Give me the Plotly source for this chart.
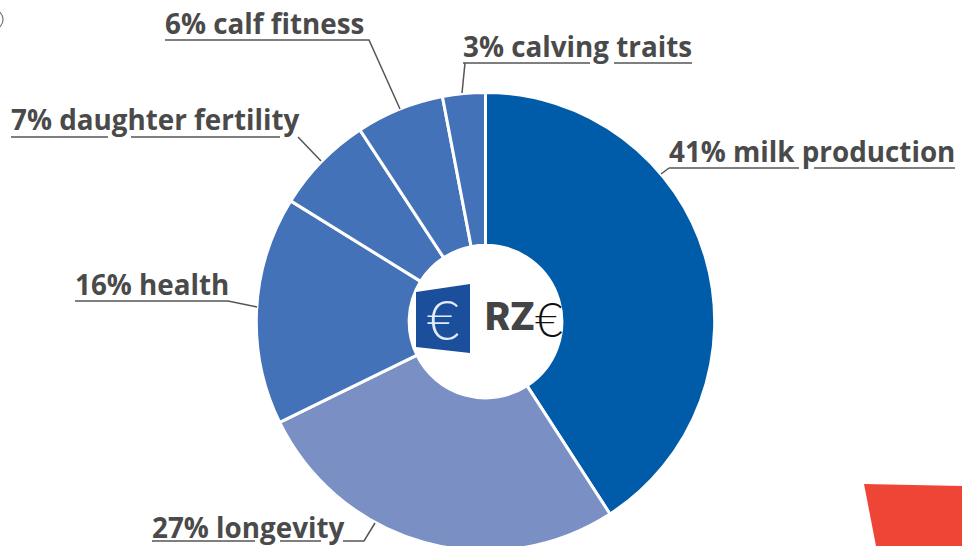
import plotly.graph_objects as go

categories = ["milk production", "longevity", "health", "daughter fertility", "calf fitness", "calving traits"]
label_percent = [41, 27, 16, 7, 6, 3]
slice_shares = [40.86, 26.89, 16.08, 6.94, 6.22, 3.01]
slice_colors = ["#005BA8", "#7A90C4", "#4472B8", "#4472B8", "#4472B8", "#4472B8"]

W, H = 962, 552
TXT = "#4A4A4A"
FONT = "Open Sans"

def px(x): return x / W
def py(y): return 1 - y / H

fig = go.Figure(go.Pie(
    labels=categories, values=slice_shares, sort=False, direction="clockwise", rotation=0,
    hole=0.333, textinfo="none", hoverinfo="label+percent",
    marker=dict(colors=slice_colors, line=dict(color="white", width=3)),
    domain=dict(x=[px(256.3), px(714.7)], y=[py(551), py(92.2)]),
    showlegend=False,
))

label_pos = {
    "milk production": (667, 151),
    "longevity": (150, 527),
    "health": (73, 284),
    "daughter fertility": (9, 119),
    "calf fitness": (163, 23),
    "calving traits": (461, 46),
}
ann = []
for c, v in zip(categories, label_percent):
    x, y = label_pos[c]
    ann.append(dict(x=px(x), y=py(y), xref="paper", yref="paper", xanchor="left", yanchor="middle",
                    text=f"<b>{v}% {c}</b>", showarrow=False, font=dict(family=FONT, size=27.8, color=TXT)))

# logo text
ann += [
    dict(x=px(443), y=py(318), xref="paper", yref="paper", text="€", showarrow=False,
         font=dict(family="Lato", size=56, color="#E4ECF7", weight=300)),
    dict(x=px(483), y=py(317), xref="paper", yref="paper", xanchor="left", text="RZ", showarrow=False,
         font=dict(family="Roboto", size=39, color="#444444", weight=900)),
    dict(x=px(548.5), y=py(318), xref="paper", yref="paper", text="€", showarrow=False,
         font=dict(family="Lato", size=48, color="#111111", weight=300)),
]

line_paths = [
    [(11, 137), (108, 137)], [(131, 137), (280, 137)], [(298, 137), (321, 161)],
    [(165, 40), (369, 40), (400, 109)],
    [(463, 63), (590, 63)], [(614, 63), (692, 63)], [(465, 63), (462, 93)],
    [(669, 168), (799, 168)], [(814, 168), (955, 168)], [(669, 168), (661, 174)],
    [(75, 301), (228, 301), (257, 307)],
    [(152, 541), (255, 541)], [(280, 541), (321, 541)], [(343, 541), (364, 541), (375, 523)],
]
shapes = []
for path in line_paths:
    d = "M " + " L ".join(f"{px(x)} {py(y)}" for x, y in path)
    shapes.append(dict(type="path", xref="paper", yref="paper", path=d, line=dict(color="#555555", width=1.5)))

def poly(pts, color):
    d = "M " + " L ".join(f"{px(x)} {py(y)}" for x, y in pts) + " Z"
    return dict(type="path", xref="paper", yref="paper", path=d, fillcolor=color, line=dict(width=0), layer="above")

shapes.append(poly([(416, 292), (470, 284), (470, 353), (416, 347)], "#1B4E9B"))
shapes.append(poly([(864, 484), (962, 486), (962, 546), (876, 546)], "#EF4537"))
shapes.append(dict(type="circle", xref="paper", yref="paper", x0=px(-14), x1=px(3), y0=py(29), y1=py(10),
                   line=dict(color="#777777", width=1.2)))

fig.update_layout(width=W, height=H, margin=dict(l=0, r=0, t=0, b=0), paper_bgcolor="white",
                  plot_bgcolor="white", annotations=ann, shapes=shapes)
fig.write_html("out.html", config=dict(displayModeBar=False),
               post_script="document.body.style.margin='0';document.body.style.overflow='hidden';document.documentElement.style.overflow='hidden';")
